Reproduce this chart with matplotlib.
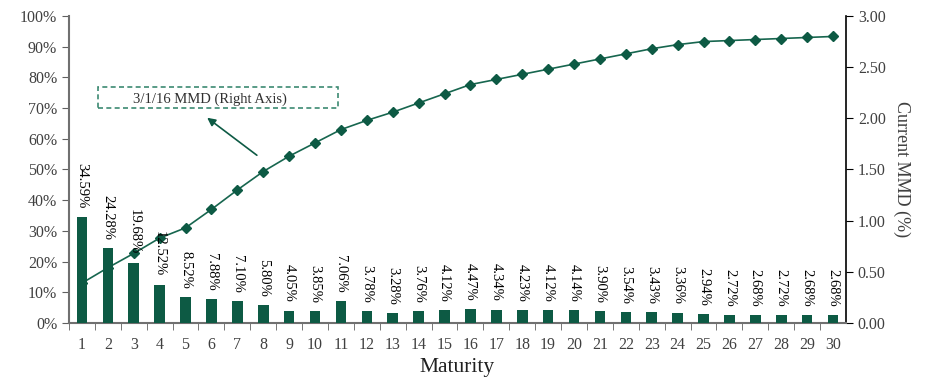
import matplotlib.pyplot as plt
from matplotlib.patches import Rectangle

GREEN = "#0D5A44"
LINE_GREEN = "#17664F"
BOX_EDGE = "#3C8A72"
PANEL = "#F0F0F0"
TICK_GREY = "#404040"

maturity = list(range(1, 31))
share_pct = [34.59, 24.28, 19.68, 12.52, 8.52, 7.88, 7.10, 5.80, 4.05, 3.85,
             7.06, 3.78, 3.28, 3.76, 4.12, 4.47, 4.34, 4.23, 4.12, 4.14,
             3.90, 3.54, 3.43, 3.36, 2.94, 2.72, 2.68, 2.72, 2.68, 2.68]
mmd = [0.39, 0.54, 0.68, 0.83, 0.93, 1.11, 1.30, 1.48, 1.63, 1.76,
       1.89, 1.98, 2.06, 2.15, 2.24, 2.33, 2.38, 2.43, 2.48, 2.53,
       2.58, 2.63, 2.68, 2.72, 2.75, 2.76, 2.77, 2.78, 2.79, 2.80]

plt.rcParams["font.family"] = ["Liberation Serif", "DejaVu Serif"]

fig = plt.figure(figsize=(9.27, 3.77), dpi=100)
ax = fig.add_axes([0.0744, 0.1432, 0.8382, 0.8144])
ax.set_facecolor(PANEL)

# MMD curve on the right axis, drawn underneath the bars
ax2 = ax.twinx()
ax.set_zorder(ax2.get_zorder() + 1)
ax.patch.set_visible(False)
ax2.set_facecolor(PANEL)
ax2.plot(maturity, mmd, color=LINE_GREEN, lw=1.2, marker="D", ms=5,
         mfc=GREEN, mec=GREEN)
ax2.set_ylim(0, 3.0)
ax2.set_yticks([0, 0.5, 1.0, 1.5, 2.0, 2.5, 3.0])
ax2.set_yticklabels([f"{v:.2f}" for v in ax2.get_yticks()])
ax2.set_ylabel("Current MMD (%)", rotation=270, labelpad=18, fontsize=13,
               color=TICK_GREY)

bars = ax.bar(maturity, share_pct, width=0.41, color=GREEN, zorder=3)
for rect, v in zip(bars, share_pct):
    ax.annotate(f"{v:.2f}%", (rect.get_x() + rect.get_width() / 2, v),
                xytext=(0, 6), textcoords="offset points",
                rotation=270, ha="center", va="bottom", fontsize=10.5,
                color="black", zorder=4)

ax.set_xlim(0.5, 30.5)
ax.set_ylim(0, 100)
ax.set_yticks(range(0, 101, 10))
ax.set_yticklabels([f"{v}%" for v in range(0, 101, 10)])
ax.set_xticks(maturity)
ax.set_xticks([m + 0.5 for m in range(0, 30)], minor=True)
ax.tick_params(axis="x", which="major", length=0, pad=10, labelsize=11.5,
               colors=TICK_GREY)
ax.tick_params(axis="x", which="minor", length=5, color="#606060")
ax.tick_params(axis="y", length=5, labelsize=11.5, colors=TICK_GREY,
               color="#606060")
ax2.tick_params(axis="y", length=5, labelsize=11.5, colors=TICK_GREY,
                color="black")
ax.set_xlabel("Maturity", fontsize=15.5, labelpad=4, color="#202020")

for a in (ax, ax2):
    a.spines["top"].set_visible(False)
ax.spines["right"].set_visible(False)
ax.spines["left"].set_color("#707070")
ax.spines["left"].set_linewidth(1.5)
ax.spines["bottom"].set_color("#707070")
ax.spines["bottom"].set_linewidth(1.5)
ax2.spines["left"].set_visible(False)
ax2.spines["bottom"].set_visible(False)
ax2.spines["right"].set_color("black")
ax2.spines["right"].set_linewidth(1.2)

# Callout box for the curve
ax.add_patch(Rectangle((1.62, 70.1), 9.27, 6.9, facecolor="white",
                       edgecolor=BOX_EDGE, lw=1.2, ls=(0, (3, 2)), zorder=5))
ax.text(5.96, 72.9, "3/1/16 MMD (Right Axis)", ha="center", va="center",
        fontsize=10.5, color="#303030", zorder=6)
ax.annotate("", xy=(5.75, 67.4), xytext=(7.84, 54.1),
            arrowprops=dict(arrowstyle="-|>", color=GREEN, lw=1.2,
                            mutation_scale=12),
            zorder=6)

fig.savefig("out.png", dpi=100)
